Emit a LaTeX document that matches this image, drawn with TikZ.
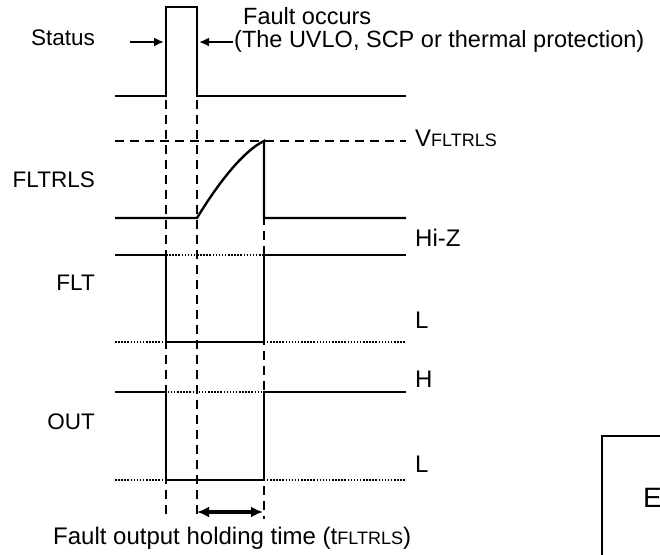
\documentclass[tikz,border=0pt]{standalone}
\usepackage{fontspec}
\setmainfont{Liberation Sans}
\usetikzlibrary{arrows.meta, calc, positioning}

\tikzset{
  sig/.style={line width=2.4pt},
  guide/.style={line width=1.4pt, dash pattern=on 9pt off 6pt},
  level/.style={line width=1.4pt, dash pattern=on 1.5pt off 1.6pt},
  lbl/.style={font=\fontsize{24}{28}\selectfont, inner sep=0pt, anchor=west},
  signame/.style={font=\fontsize{22.5}{26}\selectfont, inner sep=0pt, anchor=east},
  tip/.style={-{Latex[length=10pt,width=9pt]}},
}
\newcommand{\smallcap}[1]{{\fontsize{18}{20}\selectfont #1}}

\begin{document}
\begin{tikzpicture}[x=1pt, y=-1pt]
  \useasboundingbox (0,0) rectangle (660,554);

  % Timing guides
  \draw[guide] (166,100) -- (166,519);
  \draw[guide] (197,100) -- (197,519);
  \draw[guide] (264,141) -- (264,519);

  % Status
  \node[signame] (status) at (95,38) {Status};
  \draw[sig] (115,96) -- (166,96) -- (166,7) -- (197,7) -- (197,96) -- (406,96);
  \node[lbl, anchor=north west, align=left, font=\fontsize{23.5}{22.5}\selectfont] (fault) at (234,7.5)
    {\hspace*{9pt}Fault occurs\\(The UVLO, SCP or thermal protection)};
  \coordinate (inA) at (130,42);
  \coordinate (inB) at (164,42);
  \coordinate (inC) at (199,42);
  \coordinate (inD) at (233,42);
  \draw[sig, tip] (inA) -- (inB);
  \draw[sig, tip] (inD) -- (inC);

  % FLTRLS
  \node[signame] (fltrls) at (95,180) {FLTRLS};
  \draw[guide] (115,141) -- (406,141);
  \draw[sig] (115,218) -- (197,218) .. controls (220,180) and (245,150) .. (264,141)
    -- (264,218) -- (406,218);
  \node[lbl] (vrls) at (415,138) {V\smallcap{FLTRLS}};
  \node[lbl] (hiz) at (415,238) {Hi-Z};

  % FLT
  \node[signame] (flt) at (95,283) {FLT};
  \draw[level] (166,255) -- (264,255);
  \draw[level] (115,342) -- (406,342);
  \draw[sig] (115,255) -- (166,255) -- (166,342) -- (264,342) -- (264,255) -- (406,255);
  \node[lbl] (fltlow) at (415,320) {L};

  % OUT
  \node[signame] (out) at (95,422) {OUT};
  \draw[level] (115,392) -- (406,392);
  \draw[level] (115,480) -- (406,480);
  \draw[sig] (115,392) -- (166,392) -- (166,480) -- (264,480) -- (264,392) -- (406,392);
  \node[lbl] (outhigh) at (415,379) {H};
  \node[lbl] (outlow) at (415,464) {L};

  % Holding time
  \coordinate (holdA) at (197,512);
  \coordinate (holdB) at (263,512);
  \draw[line width=3.5pt, {Latex[length=12pt,width=11pt]}-{Latex[length=12pt,width=11pt]}] (holdA) -- (holdB);
  \node[lbl] (hold) at (53,538) {Fault output holding time (t\smallcap{FLTRLS})};

  % Cut-off box
  \draw[line width=1.3pt] (602,560) -- (602,436) -- (670,436);
  \node[lbl, font=\fontsize{28}{32}\selectfont] (edge) at (643,498) {E};
\end{tikzpicture}
\end{document}
